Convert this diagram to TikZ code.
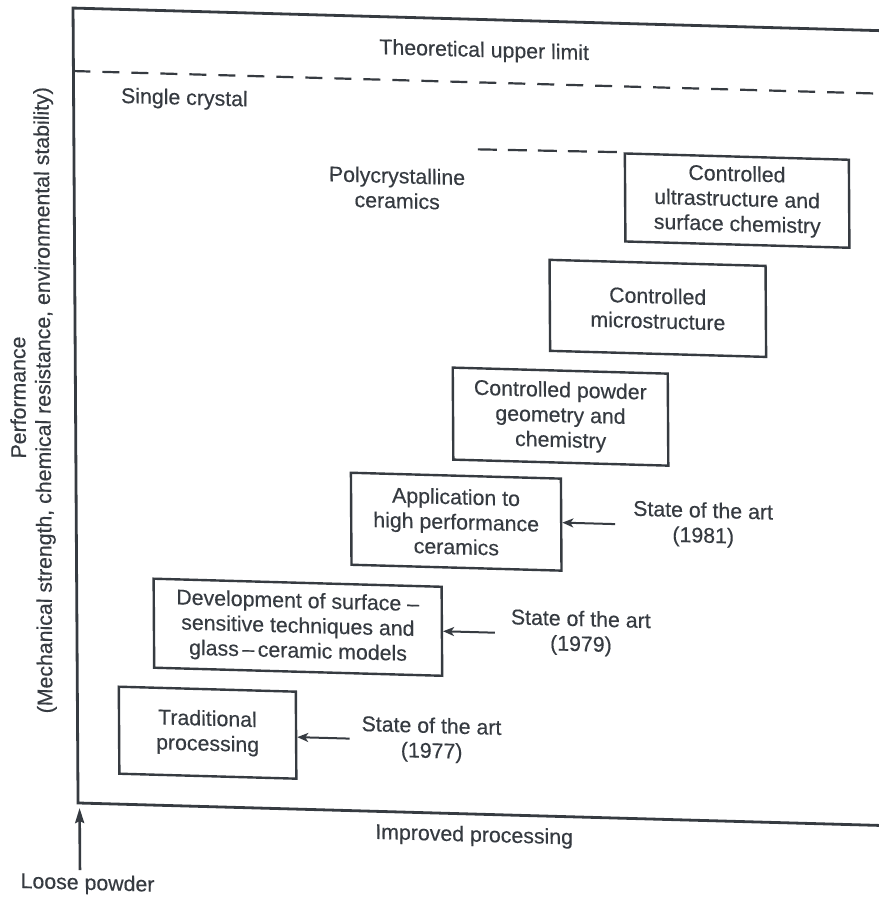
\documentclass[tikz,border=0pt]{standalone}
\usepackage{fontspec}
\setmainfont{Liberation Sans}[FakeBold=0.35]
\usetikzlibrary{arrows.meta}
\definecolor{ink}{HTML}{363B41}
\begin{document}
\begin{tikzpicture}[x=1pt,y=-1pt,
  every node/.style={text=ink, font=\fontsize{21.3}{25}\selectfont},
  frame/.style={draw=ink, line width=2.8pt},
  limit/.style={draw=ink, line width=2.2pt, dash pattern=on 17pt off 12pt},
  stage/.style={draw=ink, line width=2.4pt, align=center, inner sep=0pt},
  label/.style={align=center, inner sep=0pt},
  arr/.style={draw=ink, line width=2pt, -{Stealth[length=11pt,width=9pt,inset=3pt]}}]
\useasboundingbox (0,0) rectangle (879,898);
\fill[white] (0,0) rectangle (879,898);
\clip (0,0) rectangle (879,898);
\begin{scope}[cm={1,-0.028,-0.0063,1,(0,0)}, every node/.append style={transform shape}]
  % outer frame of the chart
  \coordinate (tl) at (73,6);
  \coordinate (bl) at (73,801);
  \coordinate (tr) at (930,6);
  \coordinate (br) at (930,801);
  \draw[frame] (tr) -- (tl) -- (bl) -- (br);
  % theoretical limit line
  \coordinate (lim0) at (73,69);
  \coordinate (lim1) at (930,69);
  \draw[limit] (lim0) -- (lim1);
  \node (theo) at (484,38) {Theoretical upper limit};
  \node[anchor=west] (single) at (117,94) {Single crystal};
  \node[label] (poly) at (396,177) {Polycrystalline\\ceramics};

  % stages of processing
  \node[stage, minimum width=224pt, minimum height=88pt] (ultra) at (736,180)
    {Controlled\\ultrastructure and\\surface chemistry};
  \node[stage, minimum width=216pt, minimum height=91pt] (micro) at (656,290)
    {Controlled\\microstructure};
  \node[stage, minimum width=215pt, minimum height=92pt] (powder) at (558,401)
    {Controlled powder\\geometry and\\chemistry};
  \node[stage, minimum width=210pt, minimum height=92pt] (app) at (453,509)
    {Application to\\high performance\\ceramics};
  \node[stage, minimum width=288pt, minimum height=89pt] (dev) at (294,619)
    {Development of surface --\\sensitive techniques and\\glass\,--\,ceramic models};
  \node[stage, minimum width=177pt, minimum height=87pt] (trad) at (203,727)
    {Traditional\\processing};

  % polycrystalline limit
  \coordinate (polyend) at (477,136);
  \draw[limit, dash pattern=on 19pt off 11pt] (polyend) -- (ultra.north west);

  % state of the art markers
  \node[label] (s81) at (700,505) {State of the art\\(1981)};
  \node[label] (s79) at (577,617) {State of the art\\(1979)};
  \node[label] (s77) at (427,728) {State of the art\\(1977)};
  \coordinate (a81) at (612,507);
  \coordinate (a79) at (491,619);
  \coordinate (a77) at (345,729);
  \draw[arr] (a81) -- (a81 -| app.east);
  \draw[arr] (a79) -- (a79 -| dev.east);
  \draw[arr] (a77) -- (a77 -| trad.east);

  % axes labels
  \node (impr) at (469,823) {Improved processing};
  \coordinate (lp0) at (74.5,868);
  \coordinate (lp1) at (74.5,806);
  \draw[arr, line width=2.6pt, -{Stealth[length=15pt,width=9pt,inset=2pt]}] (lp0) -- (lp1);
  \node (loose) at (82,882) {Loose powder};
  \node[rotate=90] (perf) at (15.5,397) {Performance};
  \node[rotate=90] (crit) at (42.5,399)
    {(Mechanical strength, chemical resistance, environmental stability)};
\end{scope}
\end{tikzpicture}
\end{document}
